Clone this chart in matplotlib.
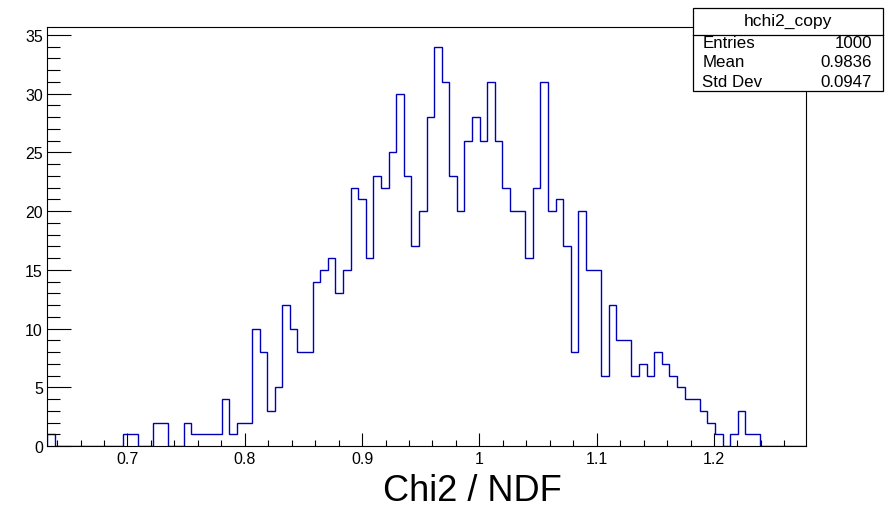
import numpy as np
import matplotlib.pyplot as plt
from matplotlib.patches import Rectangle
from matplotlib.ticker import MultipleLocator

plt.rcParams['font.family'] = ['Liberation Sans', 'DejaVu Sans']

# histogram range and bin contents (100 bins)
X_MIN = 0.6314
X_MAX = 1.2784
counts = [
    1, 0, 0, 0, 0, 0, 0, 0, 0, 0,
    1, 1, 0, 0, 2, 2, 0, 0, 2, 1,
    1, 1, 1, 4, 1, 2, 2, 10, 8, 3,
    5, 12, 10, 8, 8, 14, 15, 16, 13, 15,
    22, 21, 16, 23, 22, 25, 30, 23, 17, 20,
    28, 34, 31, 23, 20, 26, 28, 26, 31, 26,
    22, 20, 20, 16, 22, 31, 20, 21, 17, 8,
    20, 15, 15, 6, 12, 9, 9, 6, 7, 6,
    8, 7, 6, 5, 4, 4, 3, 2, 1, 0,
    1, 3, 1, 1, 0, 0, 0, 0, 0, 0,
]
hist_name = "hchi2_copy"
stat_labels = ["Entries", "Mean", "Std Dev"]
stat_values = ["1000", "0.9836", "0.0947"]
x_title = "Chi2 / NDF"

W, H = 887, 510
fig = plt.figure(figsize=(W / 100, H / 100), dpi=100)

def fx(px):
    return px / W

def fy(py):
    return 1 - py / H

left, right, top, bottom = 47, 806, 28.3, 447
ax = fig.add_axes([fx(left), fy(bottom), fx(right - left), (bottom - top) / H])

edges = np.linspace(X_MIN, X_MAX, len(counts) + 1)
ax.stairs(counts, edges, color='#0000b4', linewidth=1.0)

ax.set_xlim(X_MIN, X_MAX)
ax.set_ylim(0, (bottom - top) / 11.743)

ax.xaxis.set_major_locator(MultipleLocator(0.1))
ax.xaxis.set_minor_locator(MultipleLocator(0.02))
ax.yaxis.set_major_locator(MultipleLocator(5))
ax.yaxis.set_minor_locator(MultipleLocator(1))
ax.xaxis.set_major_formatter(plt.FuncFormatter(lambda v, p: ('%.1f' % v).rstrip('0').rstrip('.')))

ax.tick_params(axis='x', which='major', direction='in', length=9.1, width=0.8, labelsize=11.5, pad=3.5)
ax.tick_params(axis='x', which='minor', direction='in', length=4.3, width=0.8)
ax.tick_params(axis='y', which='major', direction='in', length=17.3, width=0.8, labelsize=11.5, pad=3)
ax.tick_params(axis='y', which='minor', direction='in', length=9.1, width=0.8)
ax.tick_params(top=False, right=False, which='both')
for s in ax.spines.values():
    s.set_linewidth(0.8)

# x axis title
fig.text(fx(472), fy(501.5), x_title, fontsize=26, ha='center', va='baseline')

# stat box
bx0, bx1, by0, by1, bsep = 692.7, 883.3, 9.3, 91.7, 36
fig.patches.append(Rectangle((fx(bx0), fy(by1)), fx(bx1 - bx0), (by1 - by0) / H,
                             transform=fig.transFigure, facecolor='white',
                             edgecolor='black', linewidth=0.9, zorder=5))
fig.lines.append(plt.Line2D([fx(bx0), fx(bx1)], [fy(bsep), fy(bsep)],
                            transform=fig.transFigure, color='black', linewidth=0.9, zorder=6))
fig.text(fx((bx0 + bx1) / 2), fy(26), hist_name, fontsize=12.5, ha='center', va='baseline', zorder=7)
for i, (lab, val) in enumerate(zip(stat_labels, stat_values)):
    yb = 47.5 + 19.8 * i
    fig.text(fx(702.5), fy(yb), lab, fontsize=12.2, ha='left', va='baseline', zorder=7)
    fig.text(fx(872), fy(yb), val, fontsize=12.2, ha='right', va='baseline', zorder=7)

fig.savefig('out.png', dpi=100)
